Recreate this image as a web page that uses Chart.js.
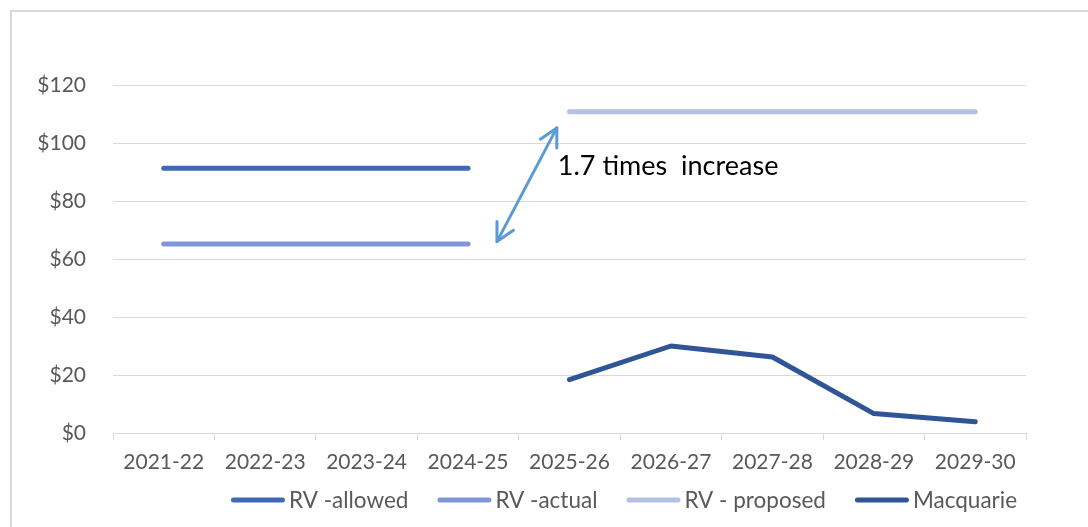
<!DOCTYPE html>
<html>
<head>
<meta charset="utf-8">
<script src="https://cdn.jsdelivr.net/npm/chart.js@4/dist/chart.umd.min.js"></script>
<style>
  html, body { margin: 0; padding: 0; background: #fff; }
  #wrap { width: 1088px; height: 527px; position: relative; }
</style>
</head>
<body>
<div id="wrap"><canvas id="c" width="1088" height="527"></canvas></div>
<script>
// ---- Data ----
const categories = ['2021-22','2022-23','2023-24','2024-25','2025-26','2026-27','2027-28','2028-29','2029-30'];
const rvAllowed  = [91.3, 91.3, 91.3, 91.3, null, null, null, null, null];
const rvActual   = [65.2, 65.2, 65.2, 65.2, null, null, null, null, null];
const rvProposed = [null, null, null, null, 110.8, 110.8, 110.8, 110.8, 110.8];
const macquarie  = [null, null, null, null, 18.4, 30.0, 26.2, 6.7, 3.9];
const seriesNames = ['RV -allowed', 'RV -actual', 'RV - proposed', 'Macquarie'];
const yTicks = [0, 20, 40, 60, 80, 100, 120];
// annotation: double arrow (category index, value) and its label
const arrowFrom = [3.285, 66.0];
const arrowTo = [3.875, 105.2];
const annotationText = '1.7 times  increase';
const annotationPos = [3.885, 92.0];

const colors = ['#4068B8', '#7F97D7', '#B4C1E2', '#2F5597'];
const FONT = 'Lato, "Open Sans", sans-serif';

const borderPlugin = {
  id: 'outerBorder',
  beforeDraw(chart) {
    const ctx = chart.ctx;
    ctx.save();
    ctx.fillStyle = '#fff';
    ctx.fillRect(0, 0, chart.width, chart.height);
    ctx.strokeStyle = '#d9d9d9';
    ctx.lineWidth = 2;
    ctx.strokeRect(11, 11, chart.width + 20, chart.height + 20);
    ctx.restore();
  }
};

const annotationPlugin = {
  id: 'arrowAnno',
  afterDatasetsDraw(chart) {
    const ctx = chart.ctx;
    const xs = chart.scales.x, ys = chart.scales.y;
    const x1 = xs.getPixelForValue(arrowFrom[0]), y1 = ys.getPixelForValue(arrowFrom[1]);
    const x2 = xs.getPixelForValue(arrowTo[0]), y2 = ys.getPixelForValue(arrowTo[1]);
    ctx.save();
    ctx.strokeStyle = '#5B9BD5';
    ctx.lineWidth = 3;
    ctx.lineCap = 'round';
    ctx.lineJoin = 'round';
    ctx.beginPath();
    ctx.moveTo(x1, y1); ctx.lineTo(x2, y2);
    ctx.stroke();
    const head = (tx, ty, fx, fy) => {
      const a = Math.atan2(ty - fy, tx - fx);
      const L = 20, spread = Math.PI / 6.5;
      ctx.beginPath();
      ctx.moveTo(tx - L * Math.cos(a - spread), ty - L * Math.sin(a - spread));
      ctx.lineTo(tx, ty);
      ctx.lineTo(tx - L * Math.cos(a + spread), ty - L * Math.sin(a + spread));
      ctx.stroke();
    };
    head(x1, y1, x2, y2);
    head(x2, y2, x1, y1);
    ctx.fillStyle = '#000';
    ctx.font = '27px ' + FONT;
    ctx.textAlign = 'left';
    ctx.textBaseline = 'middle';
    ctx.fillText(annotationText, xs.getPixelForValue(annotationPos[0]), ys.getPixelForValue(annotationPos[1]));
    ctx.restore();
  }
};

const legendPlugin = {
  id: 'customLegend',
  afterDraw(chart) {
    const ctx = chart.ctx;
    const sample = 54, gap = 4, itemGap = 29, centerX = 624, cy = 500;
    ctx.save();
    ctx.font = '22.5px ' + FONT;
    const ds = chart.data.datasets;
    const widths = ds.map(d => sample + gap + ctx.measureText(d.label).width);
    const total = widths.reduce((a, b) => a + b, 0) + itemGap * (ds.length - 1);
    let x = centerX - total / 2;
    ds.forEach((d, i) => {
      ctx.strokeStyle = d.borderColor;
      ctx.lineWidth = 5;
      ctx.lineCap = 'round';
      ctx.beginPath();
      ctx.moveTo(x + 2.5, cy);
      ctx.lineTo(x + sample - 2.5, cy);
      ctx.stroke();
      ctx.fillStyle = '#595959';
      ctx.textAlign = 'left';
      ctx.textBaseline = 'middle';
      ctx.fillText(d.label, x + sample + gap, cy + 1);
      x += widths[i] + itemGap;
    });
    ctx.restore();
  }
};

const mk = (label, data, color) => ({
  label, data,
  borderColor: color, backgroundColor: color,
  borderWidth: 5, pointRadius: 0, pointHoverRadius: 0,
  borderCapStyle: 'round', borderJoinStyle: 'round',
  tension: 0, spanGaps: false, fill: false
});

new Chart(document.getElementById('c'), {
  type: 'line',
  data: {
    labels: categories,
    datasets: [
      mk(seriesNames[0], rvAllowed, colors[0]),
      mk(seriesNames[1], rvActual, colors[1]),
      mk(seriesNames[2], rvProposed, colors[2]),
      mk(seriesNames[3], macquarie, colors[3])
    ]
  },
  options: {
    responsive: false,
    animation: false,
    devicePixelRatio: 1,
    layout: { padding: { top: 85, right: 62, bottom: 44, left: 0 } },
    plugins: { legend: { display: false }, tooltip: { enabled: false } },
    scales: {
      x: {
        offset: true,
        afterFit: s => { s.height = 50; },
        grid: { offset: true, drawOnChartArea: false, drawTicks: true, tickLength: 7, color: '#d9d9d9', lineWidth: 1 },
        border: { display: true, color: '#d9d9d9', width: 1 },
        ticks: { color: '#595959', font: { family: FONT, size: 21 }, padding: 10, maxRotation: 0, autoSkip: false }
      },
      y: {
        min: 0, max: 120,
        afterFit: s => { s.width = 113; },
        afterBuildTicks: s => { s.ticks = yTicks.map(v => ({ value: v })); },
        grid: { color: '#d9d9d9', lineWidth: 1, drawTicks: false },
        border: { display: false },
        ticks: { color: '#595959', font: { family: FONT, size: 21 }, padding: 27, callback: v => '$' + v }
      }
    }
  },
  plugins: [borderPlugin, annotationPlugin, legendPlugin]
});
</script>
</body>
</html>
